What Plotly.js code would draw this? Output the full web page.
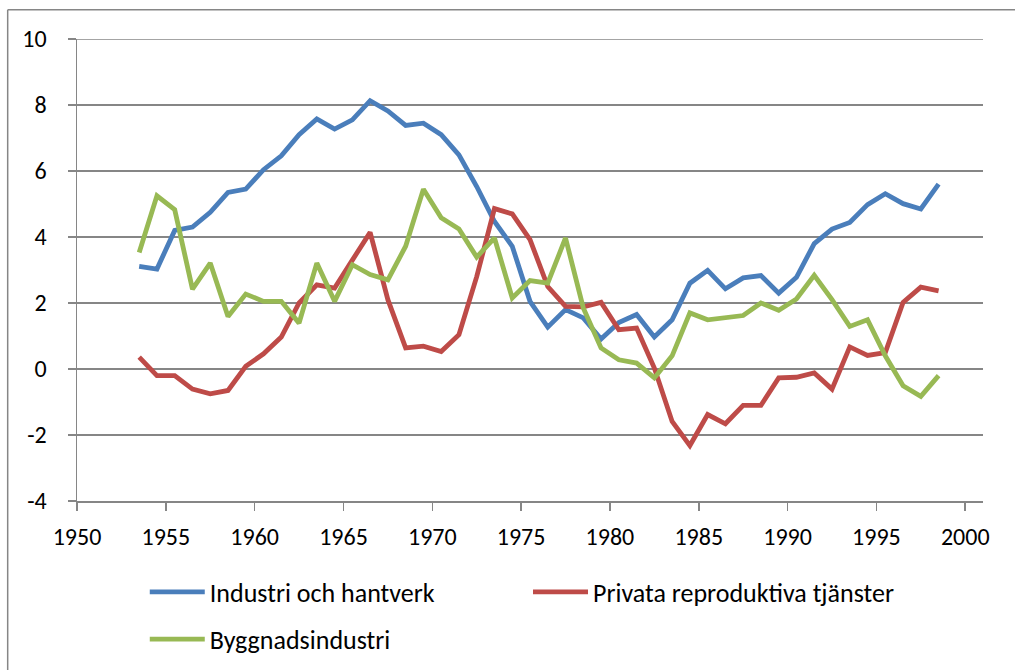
<!DOCTYPE html>
<html>
<head>
<meta charset="utf-8">
<script src="https://cdn.plot.ly/plotly-3.0.1.min.js"></script>
<style>html,body{margin:0;padding:0;background:#fff;}#chart{width:1015px;height:670px;}</style>
</head>
<body>
<div id="chart"></div>
<script>
const years = [1953.5,1954.5,1955.5,1956.5,1957.5,1958.5,1959.5,1960.5,1961.5,1962.5,
  1963.5,1964.5,1965.5,1966.5,1967.5,1968.5,1969.5,1970.5,1971.5,1972.5,
  1973.5,1974.5,1975.5,1976.5,1977.5,1978.5,1979.5,1980.5,1981.5,1982.5,
  1983.5,1984.5,1985.5,1986.5,1987.5,1988.5,1989.5,1990.5,1991.5,1992.5,
  1993.5,1994.5,1995.5,1996.5,1997.5,1998.5];
const industri = [3.11,3.03,4.2,4.3,4.75,5.35,5.45,6.04,6.46,7.1,
  7.58,7.27,7.55,8.13,7.82,7.38,7.45,7.1,6.49,5.53,
  4.47,3.72,2.05,1.27,1.8,1.55,0.91,1.41,1.65,0.97,
  1.49,2.6,2.99,2.43,2.76,2.83,2.3,2.78,3.8,4.24,
  4.44,4.98,5.31,5.01,4.85,5.6];
const privata = [0.36,-0.2,-0.2,-0.61,-0.75,-0.65,0.08,0.46,0.97,2.0,
  2.55,2.45,3.3,4.14,2.1,0.64,0.69,0.53,1.04,2.8,
  4.86,4.7,3.92,2.5,1.9,1.88,2.02,1.19,1.24,0.03,
  -1.59,-2.32,-1.38,-1.66,-1.1,-1.1,-0.27,-0.25,-0.12,-0.61,
  0.67,0.41,0.5,2.02,2.48,2.37];
const bygg = [3.53,5.25,4.83,2.42,3.21,1.59,2.27,2.05,2.05,1.39,
  3.21,2.05,3.16,2.86,2.7,3.72,5.45,4.58,4.24,3.39,
  3.97,2.15,2.68,2.6,3.97,1.85,0.64,0.28,0.18,-0.27,
  0.4,1.7,1.49,1.55,1.62,2.0,1.78,2.12,2.84,2.1,
  1.29,1.49,0.4,-0.51,-0.83,-0.2];
const seriesNames = ["Industri och hantverk","Privata reproduktiva tjänster","Byggnadsindustri"];
const seriesColors = ["#4A7EBB","#BE4B48","#98B954"];
const xTicks = [1950,1955,1960,1965,1970,1975,1980,1985,1990,1995,2000];
const yTicks = [-4,-2,0,2,4,6,8,10];

const FONT = "Carlito, Calibri, 'Liberation Sans', Arial, sans-serif";
const mk = (y, i, leg) => ({
  x: years, y: y, type: 'scatter', mode: 'lines', name: seriesNames[i],
  line: {color: seriesColors[i], width: 4.8}, legend: leg
});
const data = [mk(industri,0,'legend'), mk(privata,1,'legend2'), mk(bygg,2,'legend3')];

const legBase = {bgcolor:'rgba(0,0,0,0)', borderwidth:0, font:{family:FONT,size:26,color:'#000'},
  xanchor:'left', yanchor:'middle', itemwidth:55};
const layout = {
  width:1015, height:670,
  margin:{l:77, r:32, t:39, b:169, autoexpand:false},
  paper_bgcolor:'#fff', plot_bgcolor:'#fff',
  font:{family:FONT, color:'#000'},
  showlegend:true,
  legend: Object.assign({}, legBase, {x:0.0748, y:-0.197}),
  legend2: Object.assign({}, legBase, {x:0.4978, y:-0.197}),
  legend3: Object.assign({}, legBase, {x:0.0748, y:-0.299}),
  xaxis:{range:[1950,2001], tickvals:xTicks, ticktext:xTicks.map(String),
    showgrid:false, zeroline:false, showline:true, linecolor:'#868686', linewidth:1.5,
    ticks:'outside', ticklen:8, tickcolor:'#868686', tickwidth:1.5,
    tickfont:{family:FONT,size:24,color:'#000'}, ticklabelstandoff:6, automargin:false},
  yaxis:{range:[-4,10], tickvals:yTicks, ticktext:yTicks.map(String),
    showgrid:true, gridcolor:'#868686', gridwidth:1.5, zeroline:false,
    showline:true, linecolor:'#868686', linewidth:1.5,
    ticks:'outside', ticklen:8, tickcolor:'#868686', tickwidth:1.5,
    tickfont:{family:FONT,size:24,color:'#000'}, ticklabelstandoff:16, automargin:false},
  shapes:[
    {type:'line', xref:'paper', yref:'paper', x0:-0.0765, x1:1.04, y0:1.0634, y1:1.0634, line:{color:'#868686', width:1.5}},
    {type:'line', xref:'paper', yref:'paper', x0:-0.0765, x1:-0.0765, y0:1.0634, y1:-0.4, line:{color:'#868686', width:1.5}},
    {type:'line', xref:'paper', yref:'y', x0:0, x1:1, y0:10, y1:10, line:{color:'#868686', width:1.5}}
  ]
};
Plotly.newPlot('chart', data, layout, {displayModeBar:false, staticPlot:true});
</script>
</body>
</html>
